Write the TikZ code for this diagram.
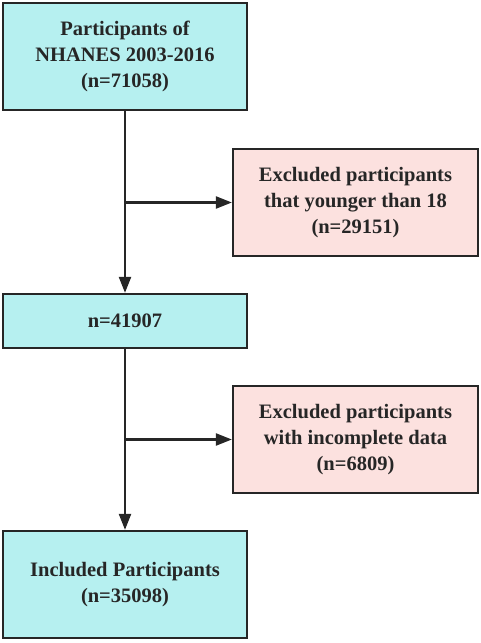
\documentclass[tikz,border=0pt]{standalone}
\usepackage{fontspec}
\setmainfont{Liberation Serif}
\usetikzlibrary{arrows.meta}
\definecolor{boxcyan}{HTML}{B6F0F0}
\definecolor{boxpink}{HTML}{FCE1DF}
\definecolor{edgegray}{HTML}{262626}
\begin{document}
\begin{tikzpicture}[x=1pt,y=1pt,>={Triangle[length=16pt,width=12pt]},line width=2.2pt,
    main node/.style={rectangle,draw=edgegray,fill=boxcyan,minimum width=244pt,align=center,inner sep=0pt,font=\fontsize{20.5}{26}\selectfont\bfseries,text=edgegray},
    side node/.style={main node,fill=boxpink,minimum width=245pt}]

            \useasboundingbox (0,0) rectangle (480,643);

            \node[main node, minimum height=107pt] (1) at (125,586.5) {Participants of\\NHANES 2003-2016\\(n=71058)};
            \node[side node, minimum height=107pt] (2) at (355.5,440.5) {Excluded participants\\that younger than 18\\(n=29151)};
            \node[main node, minimum height=54pt] (3) at (125,322) {n=41907};
            \node[side node, minimum height=107pt] (4) at (355.5,203.5) {Excluded participants\\with incomplete data\\(n=6809)};
            \node[main node, minimum height=107pt] (5) at (125,58.5) {Included Participants\\(n=35098)};

            \coordinate (a) at (1.south |- 2.west);
            \coordinate (b) at (3.south |- 4.west);

            \draw[->,edgegray] (1) to (3);
            \draw[->,edgegray] (a) to (2);
            \draw[->,edgegray] (3) to (5);
            \draw[->,edgegray] (b) to (4);

            ;
        \end{tikzpicture}
\end{document}
